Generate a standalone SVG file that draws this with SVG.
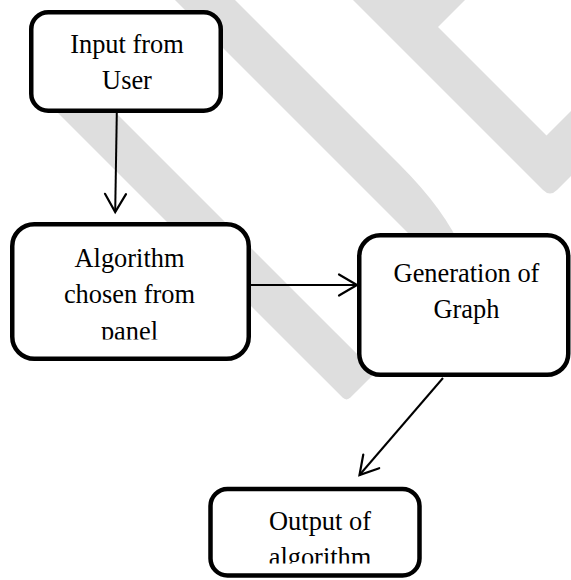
<svg xmlns="http://www.w3.org/2000/svg" width="571" height="580" viewBox="0 0 571 580">
  <style>
    .wm { fill: #dedede; stroke: none; }
    .box { fill: #ffffff; stroke: #000000; stroke-width: 4.5; }
    .lbl { font-family: "Liberation Serif", "Times New Roman", serif; font-size: 26.4px; fill: #000000; text-anchor: middle; }
    .conn { fill: none; stroke: #000000; stroke-width: 2; marker-end: url(#arr); }
  </style>
  <defs>
    <marker id="arr" markerWidth="30" markerHeight="30" refX="20" refY="12" orient="auto" markerUnits="userSpaceOnUse" overflow="visible">
      <path d="M2,1.5 L20,12 L2,22.5" fill="none" stroke="#000000" stroke-width="2.2" stroke-linecap="round" stroke-linejoin="miter"/>
    </marker>
    <clipPath id="clipAlg"><rect x="0" y="200" width="300" height="139.5"/></clipPath>
    <clipPath id="clipOut"><rect x="180" y="470" width="260" height="93.5"/></clipPath>
  </defs>

  <g id="watermark">
    <path class="wm" d="M40,95 L69,66 L371.3,368.3 Q375.5,372.5 371.3,376.7 L350.7,397.3 Q346.5,401.5 342.3,397.3 Z"/>
    <path class="wm" d="M175,0 L235,0 L400,165 Q445,210 462,250 L430,255 Z"/>
    <path class="wm" d="M353,0 L465,0 L438,27 L546.5,135.5 L571,111 L571,176 L557,190 Q550,197 543,190 Z"/>
  </g>

  <g id="connectors">
    <line class="conn" x1="116.8" y1="113" x2="115.2" y2="212"/>
    <line class="conn" x1="251" y1="285" x2="357" y2="285"/>
    <line class="conn" x1="443" y1="378" x2="359.5" y2="475"/>
  </g>

  <g id="input">
    <rect class="box" x="31.25" y="12.25" width="189.5" height="98.5" rx="17"/>
    <text class="lbl" x="127" y="53">Input from</text>
    <text class="lbl" x="127" y="89">User</text>
  </g>

  <g id="algorithm">
    <rect class="box" x="12.25" y="224.25" width="236.5" height="134.5" rx="22"/>
    <g clip-path="url(#clipAlg)">
      <text class="lbl" x="129.5" y="267">Algorithm</text>
      <text class="lbl" x="129.5" y="303">chosen from</text>
      <text class="lbl" x="129.5" y="340">panel</text>
    </g>
  </g>

  <g id="generation">
    <rect class="box" x="359.25" y="235.25" width="209" height="139.5" rx="21"/>
    <text class="lbl" x="466.5" y="282">Generation of</text>
    <text class="lbl" x="466.5" y="317.5">Graph</text>
  </g>

  <g id="output">
    <rect class="box" x="210.5" y="489" width="209" height="86.5" rx="17"/>
    <g clip-path="url(#clipOut)">
      <text class="lbl" x="320" y="530">Output of</text>
      <text class="lbl" x="320" y="566">algorithm</text>
    </g>
  </g>
</svg>
